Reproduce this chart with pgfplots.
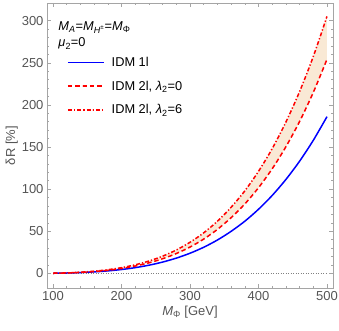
\documentclass[border=0pt]{standalone}
\usepackage{pgfplots}
\pgfplotsset{compat=1.18}
\usepgfplotslibrary{fillbetween}
\usepackage{fontspec}
\setmainfont{Liberation Sans}
\definecolor{tickgray}{RGB}{85,85,85}
\definecolor{framegray}{RGB}{165,165,165}
\definecolor{band}{RGB}{249,233,213}
\pgfplotstableread{
M blue dashed dashdot
100 0 0 0
120 0.32 0.40 0.47
140 0.85 1.07 1.25
160 1.65 2.09 2.44
180 2.83 3.60 4.21
200 4.47 5.72 6.69
220 6.68 8.58 10.07
240 9.59 12.38 14.54
260 13.3 17.24 20.30
280 18.0 23.44 27.64
300 23.8 31.13 36.77
320 30.9 40.60 48.03
340 39.5 52.12 61.78
360 49.8 66.00 78.36
380 61.8 82.27 97.83
400 76.0 101.61 121.03
420 92.4 124.07 148.02
440 111.4 150.23 179.52
460 133.1 180.27 215.76
480 157.9 214.78 257.46
500 186.0 254.08 305.04
}\datatab
\begin{document}
\begin{tikzpicture}
\begin{axis}[
  scale only axis,
  width=286pt, height=285pt,
  xmin=91.2, xmax=508.8,
  ymin=-17.5, ymax=321,
  xtick={100,200,300,400,500},
  ytick={0,50,100,150,200,250,300},
  minor x tick num=4,
  minor y tick num=4,
  tick align=inside,
  major tick length=4pt,
  minor tick length=2pt,
  axis line style={framegray, line width=0.6pt},
  every tick/.style={framegray, line width=0.5pt},
  tick label style={font=\fontsize{13}{15}\selectfont, text=tickgray},
  /pgf/number format/assume math mode=true,
  /pgf/number format/1000 sep={},
  xlabel={\textit{M}\textsubscript{Φ} [GeV]},
  ylabel={δR [\%]},
  label style={font=\fontsize{13}{15}\selectfont, text=tickgray},
  xlabel style={yshift=2pt},
  ylabel style={yshift=-3pt},
  legend cell align=left,
  legend style={draw=none, fill=none, at={(axis description cs:0.07,0.818)}, anchor=north west,
    font=\fontsize{12.8}{15}\selectfont, row sep=9pt, column sep=5pt, inner sep=0pt},
  legend image code/.code={\draw[#1, line cap=butt] plot coordinates {(0pt,0pt) (36pt,0pt)};},
  clip=true,
]
\addplot[gray, dotted, line width=0.5pt, forget plot] coordinates {(100,0) (500,0)};
\addplot[name path=A, draw=none, forget plot, smooth] table[x=M, y=dashed] {\datatab};
\addplot[name path=B, draw=none, forget plot, smooth] table[x=M, y=dashdot] {\datatab};
\addplot[band, forget plot] fill between[of=A and B];
\addplot[color=blue, line width=1.5pt, smooth] table[x=M, y=blue] {\datatab};
\addlegendentry{IDM 1l}
\addplot[color=red, line width=1.5pt, dash pattern=on 4.5pt off 2.8pt, smooth] table[x=M, y=dashed] {\datatab};
\addlegendentry{IDM 2l, \textit{λ}\textsubscript{2}=0}
\addplot[color=red, line width=1.5pt, dash pattern=on 4pt off 2pt on 1.3pt off 2pt, smooth] table[x=M, y=dashdot] {\datatab};
\addlegendentry{IDM 2l, \textit{λ}\textsubscript{2}=6}
\node[anchor=base west, font=\fontsize{12.8}{15}\selectfont, inner sep=0pt] at (axis description cs:0.0395,0.905) {\textit{M}\textsubscript{\textit{A}}=\textit{M}\textsubscript{\textit{H}\textsuperscript{±}}=\textit{M}\textsubscript{Φ}};
\node[anchor=base west, font=\fontsize{12.8}{15}\selectfont, inner sep=0pt] at (axis description cs:0.0395,0.846) {\textit{μ}\textsubscript{2}=0};
\coordinate (sw) at (rel axis cs:0,0);
\coordinate (ne) at (rel axis cs:1,1);
\end{axis}
\pgfresetboundingbox
\path ([xshift=-47pt,yshift=-42pt]sw) rectangle ([xshift=6pt,yshift=3pt]ne);
\end{tikzpicture}
\end{document}
